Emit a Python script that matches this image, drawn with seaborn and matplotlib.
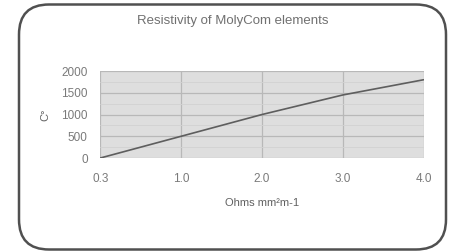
import numpy as np
import pandas as pd
import matplotlib
matplotlib.use("Agg")
import matplotlib.pyplot as plt
from matplotlib.patches import FancyBboxPatch
import seaborn as sns

resistance_labels = ["0.3", "1.0", "2.0", "3.0", "4.0"]
temperature = [0, 500, 1000, 1450, 1800]
y_ticks = [0, 500, 1000, 1500, 2000]

text_col = "#7a7a7a"
line_col = "#5e5e5e"

sns.set_style("white")
plt.rcParams["font.family"] = ["Liberation Sans", "DejaVu Sans"]

df = pd.DataFrame({"pos": np.arange(len(resistance_labels)), "temp": temperature})

fig = plt.figure(figsize=(4.54, 2.52), dpi=100)
ax = fig.add_axes([0.221, 0.373, 0.712, 0.345])

# rounded frame around the whole chart, in inches so the corners stay round
border = FancyBboxPatch((0.19, 0.025), 4.27, 2.45, transform=fig.dpi_scale_trans,
                        boxstyle="round,pad=0,rounding_size=0.3",
                        fc="white", ec="#505050", lw=1.8, zorder=-1)
fig.patches.append(border)

ax.set_facecolor("#dedede")
sns.lineplot(data=df, x="pos", y="temp", ax=ax, color=line_col, lw=1.2)

ax.set_xlim(0, len(resistance_labels) - 1)
ax.set_ylim(0, 2000)
ax.set_xticks(df["pos"])
ax.set_xticklabels(resistance_labels)
ax.set_yticks(y_ticks)
ax.set_yticks([250, 750, 1250, 1750], minor=True)
ax.grid(True, which="major", color="#b8b8b8", lw=0.9)
ax.grid(True, which="minor", axis="y", color="#d2d2d2", lw=0.6)
ax.set_axisbelow(True)
for s in ax.spines.values():
    s.set_visible(False)
ax.tick_params(axis="both", which="both", length=0, colors=text_col, labelsize=8.5)
ax.tick_params(axis="x", pad=11)
ax.tick_params(axis="y", pad=9)

ax.set_xlabel("Ohms mm²m-1", color="#606060", fontsize=8, labelpad=9)
ax.set_ylabel("C°", color="#606060", fontsize=8, labelpad=8)
fig.text(0.513, 0.918, "Resistivity of MolyCom elements", ha="center", va="center",
         color="#707070", fontsize=9.5)

fig.savefig("out.png", dpi=100)
